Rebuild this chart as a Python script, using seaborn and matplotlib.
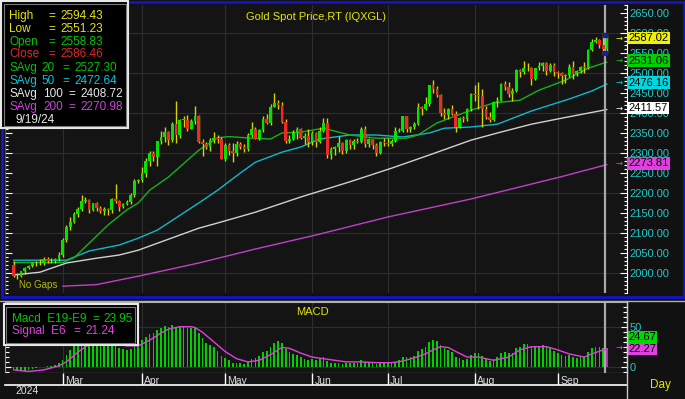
import numpy as np
import pandas as pd
import matplotlib
matplotlib.use("Agg")
import matplotlib.pyplot as plt
import matplotlib.transforms as mtransforms
from matplotlib.patches import Rectangle
from matplotlib.lines import Line2D
from matplotlib.ticker import MultipleLocator, FixedLocator
import seaborn as sns

# ---- data ----
dates = pd.bdate_range("2024-02-13", "2024-09-19")

opens = [2021, 1993, 1992, 2004, 2013, 2017, 2024, 2026, 2024, 2035, 2031, 2029, 2034,
         2044, 2083, 2114, 2128, 2148, 2160, 2179, 2182, 2158, 2174, 2162, 2155, 2160, 2157, 2186, 2181, 2165, 2172, 2178, 2195, 2230,
         2233, 2250, 2280, 2300, 2290, 2330, 2339, 2352, 2333, 2372, 2344, 2383, 2383, 2361, 2379, 2392, 2327, 2322, 2316, 2332, 2337, 2336,
         2286, 2320, 2304, 2301, 2323, 2314, 2309, 2346, 2360, 2336, 2358, 2386, 2376, 2415, 2425, 2421, 2378, 2329, 2334, 2350, 2361, 2338, 2343,
         2327, 2350, 2327, 2355, 2376, 2294, 2311, 2316, 2324, 2304, 2333, 2319, 2330, 2328, 2360, 2322, 2334, 2320, 2299, 2327,
         2326, 2323, 2330, 2356, 2356, 2392, 2359, 2364, 2372, 2414, 2411, 2422, 2469, 2459, 2445, 2400, 2396, 2409, 2398, 2364, 2387, 2384, 2410,
         2448, 2446, 2443, 2410, 2390, 2383, 2428, 2431, 2472, 2465, 2447, 2456, 2507, 2503, 2513, 2512, 2484, 2512, 2518, 2524, 2504, 2521,
         2503, 2500, 2493, 2494, 2516, 2497, 2505, 2516, 2512, 2558, 2578, 2582, 2570, 2558.83]
highs = [2031, 2000, 2006, 2016, 2021, 2027, 2030, 2035, 2041, 2039, 2037, 2037, 2052,
         2088, 2119, 2141, 2152, 2164, 2195, 2189, 2184, 2175, 2177, 2167, 2164, 2163, 2188, 2222, 2183, 2176, 2183, 2199, 2236, 2236,
         2265, 2288, 2305, 2305, 2330, 2354, 2365, 2354, 2378, 2431, 2385, 2392, 2395, 2386, 2417, 2394, 2335, 2328, 2338, 2353, 2346, 2340,
         2326, 2326, 2325, 2331, 2327, 2323, 2351, 2378, 2364, 2360, 2392, 2397, 2422, 2450, 2433, 2427, 2385, 2346, 2358, 2364, 2363, 2351, 2360,
         2354, 2352, 2365, 2388, 2388, 2315, 2317, 2342, 2327, 2336, 2334, 2336, 2337, 2366, 2368, 2337, 2335, 2324, 2331, 2338,
         2338, 2335, 2365, 2363, 2393, 2393, 2367, 2377, 2424, 2418, 2440, 2469, 2483, 2467, 2447, 2413, 2412, 2421, 2404, 2390, 2392, 2413, 2451,
         2470, 2477, 2461, 2418, 2403, 2431, 2440, 2475, 2479, 2478, 2463, 2509, 2510, 2531, 2525, 2516, 2513, 2527, 2528, 2527, 2524, 2526,
         2504, 2503, 2498, 2523, 2529, 2507, 2517, 2527, 2560, 2586, 2589, 2584, 2600, 2594.43]
lows = [1990, 1984, 1990, 1997, 2010, 2014, 2018, 2020, 2021, 2025, 2025, 2024, 2031,
        2040, 2078, 2108, 2124, 2141, 2155, 2174, 2150, 2154, 2155, 2151, 2146, 2146, 2150, 2175, 2156, 2163, 2170, 2173, 2190, 2226,
        2228, 2240, 2268, 2280, 2268, 2322, 2327, 2319, 2328, 2326, 2338, 2365, 2355, 2359, 2373, 2326, 2292, 2310, 2305, 2326, 2325, 2285,
        2280, 2295, 2277, 2292, 2309, 2303, 2306, 2339, 2335, 2333, 2353, 2373, 2370, 2414, 2409, 2374, 2326, 2325, 2333, 2335, 2335, 2323, 2314,
        2320, 2314, 2325, 2352, 2287, 2285, 2294, 2302, 2297, 2299, 2311, 2310, 2324, 2326, 2316, 2315, 2309, 2293, 2297, 2318,
        2318, 2318, 2327, 2353, 2352, 2353, 2352, 2359, 2370, 2395, 2407, 2418, 2451, 2441, 2393, 2385, 2384, 2394, 2353, 2362, 2377, 2380, 2405,
        2430, 2410, 2364, 2385, 2377, 2380, 2415, 2429, 2457, 2440, 2431, 2453, 2490, 2498, 2505, 2471, 2482, 2507, 2506, 2495, 2502, 2493,
        2488, 2472, 2476, 2490, 2485, 2493, 2500, 2500, 2510, 2556, 2575, 2563, 2546, 2551.23]
closes = [1993, 1992, 2004, 2013, 2017, 2024, 2026, 2024, 2035, 2031, 2029, 2034, 2044,
          2083, 2114, 2128, 2148, 2160, 2179, 2182, 2158, 2174, 2162, 2155, 2160, 2157, 2186, 2181, 2165, 2172, 2178, 2195, 2230, 2233,
          2250, 2280, 2300, 2290, 2330, 2339, 2352, 2333, 2372, 2344, 2383, 2383, 2361, 2379, 2392, 2327, 2322, 2316, 2332, 2337, 2336, 2286,
          2320, 2304, 2301, 2323, 2314, 2309, 2346, 2360, 2336, 2358, 2386, 2376, 2415, 2425, 2421, 2378, 2329, 2334, 2350, 2361, 2338, 2343, 2327,
          2350, 2327, 2355, 2376, 2294, 2311, 2316, 2324, 2304, 2333, 2319, 2330, 2328, 2360, 2322, 2334, 2320, 2299, 2327, 2326,
          2323, 2330, 2356, 2356, 2392, 2359, 2364, 2372, 2414, 2411, 2422, 2469, 2459, 2445, 2400, 2396, 2409, 2398, 2364, 2387, 2384, 2410, 2448,
          2446, 2443, 2410, 2390, 2383, 2428, 2431, 2472, 2465, 2447, 2456, 2507, 2503, 2513, 2512, 2484, 2512, 2518, 2524, 2504, 2521, 2503,
          2500, 2493, 2494, 2516, 2497, 2505, 2516, 2512, 2558, 2578, 2582, 2570, 2559, 2586.46]

macd = [-3, -5, -6, -5, -4, -3, -2, -1, 0, 1, 1, 2, 4,
        8, 15, 21, 27, 31, 36, 38, 36, 36, 34, 31, 29, 26, 27, 26, 23, 22, 21, 22, 27, 30,
        33, 37, 41, 42, 46, 49, 51, 50, 52, 49, 51, 51, 49, 49, 49, 42, 36, 30, 27, 24, 20, 13,
        11, 8, 5, 5, 4, 3, 6, 10, 11, 13, 18, 20, 25, 30, 32, 29, 22, 18, 16, 15, 12, 10, 8,
        10, 8, 9, 12, 7, 5, 4, 4, 3, 5, 4, 5, 5, 8, 6, 6, 5, 3, 4, 4,
        4, 4, 6, 8, 12, 12, 12, 13, 19, 22, 25, 31, 33, 32, 27, 23, 21, 18, 12, 11, 8, 10, 15,
        17, 17, 13, 9, 7, 10, 12, 17, 18, 17, 17, 23, 25, 28, 28, 24, 25, 26, 27, 24, 23, 20,
        17, 14, 13, 14, 12, 11, 12, 12, 18, 23, 25, 25, 23, 23.95]

signal_dates = ["2024-02-13", "2024-02-19", "2024-02-23", "2024-02-29", "2024-03-04", "2024-03-07",
                "2024-03-12", "2024-03-19", "2024-03-26", "2024-03-29", "2024-04-03", "2024-04-08",
                "2024-04-10", "2024-04-15", "2024-04-18", "2024-04-19", "2024-04-23", "2024-04-26",
                "2024-05-01", "2024-05-06", "2024-05-09", "2024-05-14", "2024-05-17", "2024-05-22",
                "2024-05-24", "2024-05-29", "2024-06-03", "2024-06-06", "2024-06-11", "2024-06-14",
                "2024-06-20", "2024-06-26", "2024-07-02", "2024-07-05", "2024-07-10", "2024-07-15",
                "2024-07-17", "2024-07-19", "2024-07-23", "2024-07-25", "2024-07-30", "2024-08-02",
                "2024-08-08", "2024-08-14", "2024-08-19", "2024-08-22", "2024-08-28", "2024-09-02",
                "2024-09-05", "2024-09-11", "2024-09-13", "2024-09-18", "2024-09-19"]
signal_vals = [-4, -6, -4, 1, 6, 18, 28, 31, 26, 26, 33, 42, 47, 50, 50, 49, 43, 31,
               19, 10, 6, 8, 15, 24, 23, 17, 12, 10, 8, 6, 6, 5, 5, 7, 11, 16,
               21, 25, 24, 19, 12, 12, 8, 12, 21, 25, 25, 21, 16, 12, 16, 21, 21.24]

ma20_dates = ["2024-02-13", "2024-03-01", "2024-03-06", "2024-03-19", "2024-03-26", "2024-03-29",
              "2024-04-03", "2024-04-10", "2024-04-15", "2024-04-22", "2024-04-29", "2024-05-02",
              "2024-05-10", "2024-05-17", "2024-05-22", "2024-05-29", "2024-06-06", "2024-06-17",
              "2024-06-26", "2024-07-08", "2024-07-11", "2024-07-18", "2024-07-31", "2024-08-08",
              "2024-08-19", "2024-08-26", "2024-09-04", "2024-09-12", "2024-09-19"]
ma20_vals = [2026, 2026, 2038, 2120, 2158, 2175, 2207, 2240, 2265, 2307, 2338, 2341,
             2337, 2335, 2350, 2352, 2362, 2345, 2337, 2337, 2345, 2375, 2407, 2425,
             2432, 2457, 2482, 2512, 2527.30]

ma50_dates = ["2024-02-13", "2024-03-04", "2024-03-12", "2024-03-22", "2024-03-29", "2024-04-05",
              "2024-04-22", "2024-04-29", "2024-05-07", "2024-05-13", "2024-05-22", "2024-05-29",
              "2024-06-05", "2024-06-17", "2024-06-26", "2024-07-05", "2024-07-16", "2024-07-22",
              "2024-07-31", "2024-08-09", "2024-08-22", "2024-09-05", "2024-09-13", "2024-09-19"]
ma50_vals = [2032, 2032, 2055, 2070, 2087, 2107, 2175, 2207, 2250, 2277, 2302, 2315,
             2335, 2345, 2345, 2340, 2350, 2362, 2365, 2372, 2405, 2435, 2455, 2472.64]

ma100_dates = ["2024-02-13", "2024-02-22", "2024-03-04", "2024-03-14", "2024-03-22", "2024-03-29",
               "2024-04-22", "2024-04-29", "2024-05-13", "2024-05-29", "2024-06-17", "2024-07-02",
               "2024-07-16", "2024-07-31", "2024-08-09", "2024-08-22", "2024-09-03", "2024-09-19"]
ma100_vals = [1995, 2002, 2025, 2037, 2045, 2057, 2112, 2125, 2152, 2190, 2228, 2262,
              2295, 2332, 2350, 2372, 2387, 2408.72]

ma200_dates = ["2024-03-01", "2024-03-14", "2024-03-29", "2024-04-22", "2024-05-13",
               "2024-06-04", "2024-07-01", "2024-07-31", "2024-09-03", "2024-09-19"]
ma200_vals = [1967, 1971, 1992, 2025, 2060, 2095, 2140, 2185, 2241, 2270.98]

legend_names = ["High", "Low", "Open", "Close", "SAvg", "SAvg", "SAvg", "SAvg"]
legend_periods = ["", "", "", "", "20", "50", "100", "200"]
legend_values = ["2594.43", "2551.23", "2558.83", "2586.46", "2527.30", "2472.64", "2408.72", "2270.98"]
legend_colors = ["#e6e600", "#e6e600", "#00c800", "#e02828", "#00c000", "#00c8d8", "#e8e8e8", "#d040e0"]

price_tags = ["2587.02", "2531.06", "2476.16", "2411.57", "2273.81"]
price_tag_colors = ["#f0f000", "#00d000", "#00d8e0", "#ffffff", "#e040e0"]

# ---- style ----
sns.set_style("dark")
plt.rcParams["font.family"] = ["Liberation Sans", "DejaVu Sans"]

W, H = 685, 399
BG = "#141414"
GRID = "#2e2e2e"
CYAN = "#20c8c8"
YELLOW = "#e6e600"


def box(x0, y0, x1, y1):
    return [x0 / W, 1 - y1 / H, (x1 - x0) / W, (y1 - y0) / H]


fig = plt.figure(figsize=(W / 100, H / 100), dpi=100, facecolor="#111111")
ax = fig.add_axes(box(5, 5, 627, 293))
axm = fig.add_axes(box(5, 302, 627, 373))
axd = fig.add_axes(box(5, 373, 627, 385))

idx = np.arange(len(dates))
o, h, l, c = (np.array(v, dtype=float) for v in (opens, highs, lows, closes))
assert len(o) == len(h) == len(l) == len(c) == len(macd) == len(dates)

xlim = (-2.25, 162.3)
month_first = [int(np.where(dates.month == m)[0][0]) for m in range(3, 10)]


def pos(ds):
    return dates.get_indexer(pd.to_datetime(ds))


for a in (ax, axm, axd):
    a.set_facecolor(BG)
    a.set_xlim(*xlim)
    a.grid(False)
    a.set_xticks([])
    for s in a.spines.values():
        s.set_visible(False)

# ---- price panel ----
ax.set_ylim(1950, 2670)
for v in range(2000, 2700, 100):
    ax.axhline(v, color=GRID, lw=0.8, zorder=0)
for m in month_first:
    ax.axvline(m, color=GRID, lw=0.8, zorder=0)

for d, v, col in [(ma200_dates, ma200_vals, "#c040c8"), (ma100_dates, ma100_vals, "#d0d0d0"),
                  (ma50_dates, ma50_vals, "#10b8c8"), (ma20_dates, ma20_vals, "#18b018")]:
    sns.lineplot(x=pos(d), y=v, ax=ax, color=col, lw=1.0, zorder=2)

ax.axvline(idx[-1] - 0.4, color="#a8a8a8", lw=1.6, zorder=2.5)

up = c >= o
bottom = np.minimum(o, c)
height = np.maximum(np.abs(c - o), 1.6)
ax.vlines(idx, l, h, color="#d4d400", lw=1.0, zorder=3)
ax.bar(idx[up], height[up], bottom=bottom[up], width=0.72, color="#00e400", edgecolor="none", zorder=4)
ax.bar(idx[~up], height[~up], bottom=bottom[~up], width=0.72, color="#f02828", edgecolor="none", zorder=4)
ax.plot([idx[-1] - 0.4] * 2, [h[-1], l[-1]], "s", color="#1a1aa8", ms=3, zorder=5)

ax.yaxis.set_major_locator(FixedLocator(np.arange(2000, 2651, 50)))
ax.yaxis.set_minor_locator(MultipleLocator(10))
ax.yaxis.set_major_formatter(matplotlib.ticker.FuncFormatter(lambda v, p: f"{v:.2f}"))
ax.yaxis.set_ticks_position("both")
ax.tick_params(axis="y", which="both", direction="in", colors="white", labelcolor=CYAN,
               labelleft=False, labelright=True, labelsize=8, pad=1.5)
ax.tick_params(axis="y", which="major", length=5, width=0.8)
ax.tick_params(axis="y", which="minor", length=2.5, width=0.8)
ax.spines["right"].set_visible(True)
ax.spines["right"].set_color("white")
ax.spines["left"].set_visible(True)
ax.spines["left"].set_color("#555555")

ax.text(0.5, 0.975, "Gold Spot Price,RT (IQXGL)", transform=ax.transAxes, ha="center", va="top",
        color=YELLOW, fontsize=8)
ax.text(1.5, 1957, "No Gaps", color="#b8b800", fontsize=7, va="bottom")

tr = mtransforms.blended_transform_factory(fig.transFigure, ax.transData)
for s, col in zip(price_tags, price_tag_colors):
    v = float(s)
    ax.text(628.5 / W, v, s, transform=tr, fontsize=8, color="black", va="center", ha="left",
            bbox=dict(boxstyle="square,pad=0.1", fc=col, ec="none"), clip_on=False, zorder=10)
    ax.text(616 / W, v, "→", transform=tr, fontsize=6, color=col, va="center", ha="left",
            family="DejaVu Sans", clip_on=False, zorder=10)

# ---- MACD panel ----
axm.set_ylim(-7.9, 80.9)
for v in (0, 50):
    axm.axhline(v, color=GRID, lw=0.8, zorder=0)
for m in month_first:
    axm.axvline(m, color=GRID, lw=0.8, zorder=0)
bar_cols = ["#00d000"] * (len(macd) - 1) + ["#b030b0"]
axm.bar(idx, macd, width=0.45, color=bar_cols, edgecolor="none", zorder=2)
sns.lineplot(x=pos(signal_dates), y=signal_vals, ax=axm, color="#e040e0", lw=1.0, zorder=3)
axm.axvline(idx[-1] - 0.4, color="#a8a8a8", lw=1.6, zorder=2.5)

axm.yaxis.set_major_locator(FixedLocator([0, 50]))
axm.yaxis.set_minor_locator(MultipleLocator(6.25))
axm.yaxis.set_ticks_position("both")
axm.tick_params(axis="y", which="both", direction="in", colors="white", labelcolor=CYAN,
                labelleft=False, labelright=True, labelsize=8, pad=2)
axm.tick_params(axis="y", which="major", length=4, width=0.8)
axm.tick_params(axis="y", which="minor", length=3, width=0.8)
for side, col in (("right", "white"), ("left", "#9a9a9a"), ("top", "#b0b0b0"), ("bottom", "white")):
    axm.spines[side].set_visible(True)
    axm.spines[side].set_color(col)
axm.set_ylabel("")
axm.text(0.495, 0.93, "MACD", transform=axm.transAxes, ha="center", va="top", color=YELLOW, fontsize=8)

trm = mtransforms.blended_transform_factory(fig.transFigure, axm.transData)
axm.text(628.5 / W, 37.5, "24.67", transform=trm, fontsize=8, color="black", va="center",
         bbox=dict(boxstyle="square,pad=0.1", fc="#00d800", ec="none"), clip_on=False, zorder=10)
axm.text(628.5 / W, 22.0, "22.27", transform=trm, fontsize=8, color="black", va="center",
         bbox=dict(boxstyle="square,pad=0.1", fc="#e040e0", ec="none"), clip_on=False, zorder=10)
axm.text(616 / W, 24.0, "→", transform=trm, fontsize=6, color="#e040e0", va="center",
         family="DejaVu Sans", clip_on=False, zorder=10)

# ---- date strip ----
axd.set_ylim(0, 1)
axd.set_yticks([])
axd.vlines(month_first, 0, 1, color="white", lw=1.0)
axd.spines["bottom"].set_visible(True)
axd.spines["bottom"].set_color("white")
axd.spines["bottom"].set_linewidth(1.2)
for m in month_first:
    axd.text(m + 0.6, 0.12, dates[m].strftime("%b"), color="#e0e0e0", fontsize=7.5,
             va="baseline", ha="left", clip_on=True)

fig.text(15 / W, 1 - 394 / H, "2024", color="#e0e0e0", fontsize=7.5, va="baseline")
fig.text(660 / W, 1 - 385 / H, "Day", color=YELLOW, fontsize=8.5, ha="center", va="center")

# ---- frames ----
fig.add_artist(Rectangle((1.5 / W, 1 - 297 / H), 682 / W, 295.5 / H, transform=fig.transFigure,
                         fill=False, ec="#1414c8", lw=2.0, zorder=20))
fig.add_artist(Line2D([0, 1], [1 - 300.5 / H] * 2, transform=fig.transFigure, color="#b0b0b0", lw=1))
fig.add_artist(Line2D([627 / W] * 2, [0, 1 - 300.5 / H], transform=fig.transFigure, color="#c8c8c8", lw=1))

# price legend box
fig.add_artist(Rectangle((1 / W, 1 - 128 / H), 127 / W, 127 / H, transform=fig.transFigure,
                         fc="black", ec="#e8e8e8", lw=1.5, zorder=21))
fig.add_artist(Rectangle((3.5 / W, 1 - 125.5 / H), 122 / W, 122 / H, transform=fig.transFigure,
                         fill=False, ec="#7a7a7a", lw=0.8, zorder=21))
row_y = [16, 29, 42, 54, 68, 81, 94, 107]
for k, (name, per, val, col) in enumerate(zip(legend_names, legend_periods, legend_values, legend_colors)):
    y = 1 - row_y[k] / H
    fig.text(9 / W, y, name, color=col, fontsize=8.5, va="center", zorder=22)
    if per == "":
        eq_x, val_x = 48, 60
    else:
        per_x = 41 if len(per) == 2 else 43
        fig.text(per_x / W, y, per, color=col, fontsize=8.5, va="center", zorder=22)
        eq_x, val_x = (62, 74) if len(per) == 2 else (68, 80)
    fig.text(eq_x / W, y, "=", color=col, fontsize=8.5, va="center", zorder=22)
    fig.text(val_x / W, y, val, color=col, fontsize=8.5, va="center", zorder=22)
fig.text(15 / W, 1 - 120 / H, dates[-1].strftime("%-m/%-d/%y"), color="#e8e8e8", fontsize=8.5,
         va="center", zorder=22)

# MACD legend box
fig.add_artist(Rectangle((3.5 / W, 1 - 345 / H), 134 / W, 41 / H, transform=fig.transFigure,
                         fc="black", ec="#e8e8e8", lw=1.5, zorder=21))
fig.add_artist(Rectangle((6 / W, 1 - 342.5 / H), 129 / W, 36 / H, transform=fig.transFigure,
                         fill=False, ec="#7a7a7a", lw=0.8, zorder=21))
fig.text(12 / W, 1 - 319 / H, "Macd  E19-E9", color="#00c800", fontsize=8.5, va="center", zorder=22)
fig.text(92 / W, 1 - 319 / H, "=", color="#00c800", fontsize=8.5, va="center", zorder=22)
fig.text(103 / W, 1 - 319 / H, "23.95", color="#00c800", fontsize=8.5, va="center", zorder=22)
fig.text(12 / W, 1 - 331 / H, "Signal  E6", color="#e040e0", fontsize=8.5, va="center", zorder=22)
fig.text(73 / W, 1 - 331 / H, "=", color="#e040e0", fontsize=8.5, va="center", zorder=22)
fig.text(85 / W, 1 - 331 / H, "21.24", color="#e040e0", fontsize=8.5, va="center", zorder=22)

fig.savefig("out.png", dpi=100, facecolor=fig.get_facecolor())
